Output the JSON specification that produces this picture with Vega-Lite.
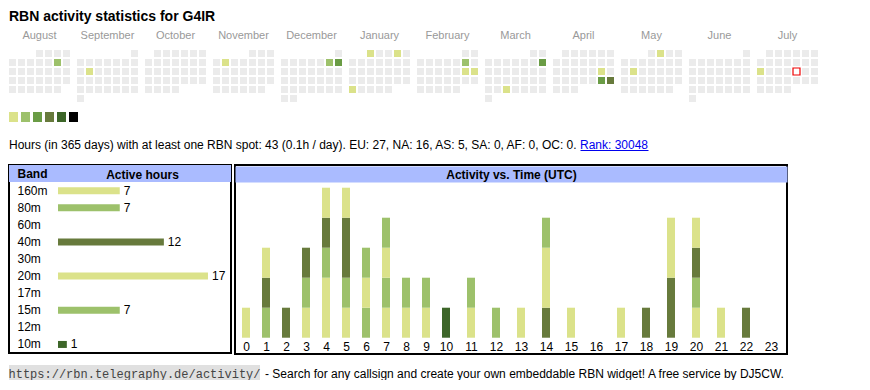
{
  "$schema": "https://vega.github.io/schema/vega-lite/v6.json",
  "background": "white",
  "padding": {"left": 8, "top": 10, "right": 0, "bottom": 0},
  "title": {"text": "RBN activity statistics for G4IR", "anchor": "start", "frame": "group", "fontSize": 14, "fontWeight": "bold", "font": "Liberation Sans", "color": "black", "baseline": "top", "offset": 6},
  "config": {
    "view": {"stroke": null},
    "font": "Liberation Sans",
    "text": {"font": "Liberation Sans", "fontSize": 12, "color": "black"},
    "axis": {"labelFont": "Liberation Sans", "titleFont": "Liberation Sans"},
    "header": {"labelFont": "Liberation Sans"},
    "title": {"font": "Liberation Sans", "color": "black"}
  },
  "spacing": 10,
  "resolve": {"scale": {"color": "independent"}},
  "vconcat": [
    {
      "data": {
        "format": {"parse": {"d": "date"}},
        "values": [
          {"d":"2024-08-01","l":0},{"d":"2024-08-02","l":0},{"d":"2024-08-03","l":0},{"d":"2024-08-04","l":0},{"d":"2024-08-05","l":0},{"d":"2024-08-06","l":0},{"d":"2024-08-07","l":0},{"d":"2024-08-08","l":0},{"d":"2024-08-09","l":0},{"d":"2024-08-10","l":2},
          {"d":"2024-08-11","l":0},{"d":"2024-08-12","l":0},{"d":"2024-08-13","l":0},{"d":"2024-08-14","l":0},{"d":"2024-08-15","l":0},{"d":"2024-08-16","l":0},{"d":"2024-08-17","l":0},{"d":"2024-08-18","l":0},{"d":"2024-08-19","l":0},{"d":"2024-08-20","l":0},
          {"d":"2024-08-21","l":0},{"d":"2024-08-22","l":0},{"d":"2024-08-23","l":0},{"d":"2024-08-24","l":0},{"d":"2024-08-25","l":0},{"d":"2024-08-26","l":0},{"d":"2024-08-27","l":0},{"d":"2024-08-28","l":0},{"d":"2024-08-29","l":0},{"d":"2024-08-30","l":0},{"d":"2024-08-31","l":0},
          {"d":"2024-09-01","l":0},{"d":"2024-09-02","l":0},{"d":"2024-09-03","l":0},{"d":"2024-09-04","l":0},{"d":"2024-09-05","l":0},{"d":"2024-09-06","l":0},{"d":"2024-09-07","l":0},{"d":"2024-09-08","l":0},{"d":"2024-09-09","l":0},{"d":"2024-09-10","l":1},
          {"d":"2024-09-11","l":0},{"d":"2024-09-12","l":0},{"d":"2024-09-13","l":0},{"d":"2024-09-14","l":0},{"d":"2024-09-15","l":0},{"d":"2024-09-16","l":0},{"d":"2024-09-17","l":0},{"d":"2024-09-18","l":0},{"d":"2024-09-19","l":0},{"d":"2024-09-20","l":0},
          {"d":"2024-09-21","l":0},{"d":"2024-09-22","l":0},{"d":"2024-09-23","l":0},{"d":"2024-09-24","l":0},{"d":"2024-09-25","l":0},{"d":"2024-09-26","l":0},{"d":"2024-09-27","l":0},{"d":"2024-09-28","l":0},{"d":"2024-09-29","l":0},{"d":"2024-09-30","l":0},
          {"d":"2024-10-01","l":0},{"d":"2024-10-02","l":0},{"d":"2024-10-03","l":0},{"d":"2024-10-04","l":0},{"d":"2024-10-05","l":0},{"d":"2024-10-06","l":0},{"d":"2024-10-07","l":0},{"d":"2024-10-08","l":0},{"d":"2024-10-09","l":0},{"d":"2024-10-10","l":0},
          {"d":"2024-10-11","l":0},{"d":"2024-10-12","l":0},{"d":"2024-10-13","l":0},{"d":"2024-10-14","l":0},{"d":"2024-10-15","l":0},{"d":"2024-10-16","l":0},{"d":"2024-10-17","l":0},{"d":"2024-10-18","l":0},{"d":"2024-10-19","l":0},{"d":"2024-10-20","l":0},
          {"d":"2024-10-21","l":0},{"d":"2024-10-22","l":0},{"d":"2024-10-23","l":0},{"d":"2024-10-24","l":0},{"d":"2024-10-25","l":0},{"d":"2024-10-26","l":0},{"d":"2024-10-27","l":0},{"d":"2024-10-28","l":0},{"d":"2024-10-29","l":0},{"d":"2024-10-30","l":0},{"d":"2024-10-31","l":0},
          {"d":"2024-11-01","l":0},{"d":"2024-11-02","l":0},{"d":"2024-11-03","l":0},{"d":"2024-11-04","l":0},{"d":"2024-11-05","l":1},{"d":"2024-11-06","l":0},{"d":"2024-11-07","l":0},{"d":"2024-11-08","l":0},{"d":"2024-11-09","l":0},{"d":"2024-11-10","l":0},
          {"d":"2024-11-11","l":0},{"d":"2024-11-12","l":0},{"d":"2024-11-13","l":0},{"d":"2024-11-14","l":0},{"d":"2024-11-15","l":0},{"d":"2024-11-16","l":0},{"d":"2024-11-17","l":0},{"d":"2024-11-18","l":0},{"d":"2024-11-19","l":0},{"d":"2024-11-20","l":0},
          {"d":"2024-11-21","l":0},{"d":"2024-11-22","l":0},{"d":"2024-11-23","l":0},{"d":"2024-11-24","l":0},{"d":"2024-11-25","l":0},{"d":"2024-11-26","l":0},{"d":"2024-11-27","l":0},{"d":"2024-11-28","l":0},{"d":"2024-11-29","l":0},{"d":"2024-11-30","l":0},
          {"d":"2024-12-01","l":0},{"d":"2024-12-02","l":0},{"d":"2024-12-03","l":0},{"d":"2024-12-04","l":0},{"d":"2024-12-05","l":0},{"d":"2024-12-06","l":0},{"d":"2024-12-07","l":2},{"d":"2024-12-08","l":3},{"d":"2024-12-09","l":0},{"d":"2024-12-10","l":0},
          {"d":"2024-12-11","l":0},{"d":"2024-12-12","l":0},{"d":"2024-12-13","l":0},{"d":"2024-12-14","l":0},{"d":"2024-12-15","l":0},{"d":"2024-12-16","l":0},{"d":"2024-12-17","l":0},{"d":"2024-12-18","l":0},{"d":"2024-12-19","l":0},{"d":"2024-12-20","l":0},
          {"d":"2024-12-21","l":0},{"d":"2024-12-22","l":0},{"d":"2024-12-23","l":0},{"d":"2024-12-24","l":0},{"d":"2024-12-25","l":0},{"d":"2024-12-26","l":0},{"d":"2024-12-27","l":0},{"d":"2024-12-28","l":0},{"d":"2024-12-29","l":0},{"d":"2024-12-30","l":0},{"d":"2024-12-31","l":0},
          {"d":"2025-01-01","l":1},{"d":"2025-01-02","l":0},{"d":"2025-01-03","l":0},{"d":"2025-01-04","l":1},{"d":"2025-01-05","l":0},{"d":"2025-01-06","l":0},{"d":"2025-01-07","l":0},{"d":"2025-01-08","l":0},{"d":"2025-01-09","l":0},{"d":"2025-01-10","l":0},
          {"d":"2025-01-11","l":0},{"d":"2025-01-12","l":0},{"d":"2025-01-13","l":0},{"d":"2025-01-14","l":0},{"d":"2025-01-15","l":0},{"d":"2025-01-16","l":0},{"d":"2025-01-17","l":0},{"d":"2025-01-18","l":0},{"d":"2025-01-19","l":0},{"d":"2025-01-20","l":0},
          {"d":"2025-01-21","l":0},{"d":"2025-01-22","l":0},{"d":"2025-01-23","l":0},{"d":"2025-01-24","l":0},{"d":"2025-01-25","l":0},{"d":"2025-01-26","l":0},{"d":"2025-01-27","l":1},{"d":"2025-01-28","l":0},{"d":"2025-01-29","l":0},{"d":"2025-01-30","l":0},{"d":"2025-01-31","l":0},
          {"d":"2025-02-01","l":0},{"d":"2025-02-02","l":0},{"d":"2025-02-03","l":0},{"d":"2025-02-04","l":0},{"d":"2025-02-05","l":0},{"d":"2025-02-06","l":0},{"d":"2025-02-07","l":0},{"d":"2025-02-08","l":2},{"d":"2025-02-09","l":0},{"d":"2025-02-10","l":0},
          {"d":"2025-02-11","l":0},{"d":"2025-02-12","l":0},{"d":"2025-02-13","l":0},{"d":"2025-02-14","l":0},{"d":"2025-02-15","l":1},{"d":"2025-02-16","l":1},{"d":"2025-02-17","l":0},{"d":"2025-02-18","l":0},{"d":"2025-02-19","l":0},{"d":"2025-02-20","l":0},
          {"d":"2025-02-21","l":0},{"d":"2025-02-22","l":0},{"d":"2025-02-23","l":0},{"d":"2025-02-24","l":0},{"d":"2025-02-25","l":0},{"d":"2025-02-26","l":0},{"d":"2025-02-27","l":0},{"d":"2025-02-28","l":0},
          {"d":"2025-03-01","l":0},{"d":"2025-03-02","l":0},{"d":"2025-03-03","l":0},{"d":"2025-03-04","l":0},{"d":"2025-03-05","l":0},{"d":"2025-03-06","l":0},{"d":"2025-03-07","l":0},{"d":"2025-03-08","l":0},{"d":"2025-03-09","l":3},{"d":"2025-03-10","l":0},
          {"d":"2025-03-11","l":0},{"d":"2025-03-12","l":0},{"d":"2025-03-13","l":0},{"d":"2025-03-14","l":0},{"d":"2025-03-15","l":0},{"d":"2025-03-16","l":0},{"d":"2025-03-17","l":0},{"d":"2025-03-18","l":0},{"d":"2025-03-19","l":0},{"d":"2025-03-20","l":0},
          {"d":"2025-03-21","l":0},{"d":"2025-03-22","l":0},{"d":"2025-03-23","l":0},{"d":"2025-03-24","l":0},{"d":"2025-03-25","l":0},{"d":"2025-03-26","l":1},{"d":"2025-03-27","l":0},{"d":"2025-03-28","l":0},{"d":"2025-03-29","l":0},{"d":"2025-03-30","l":0},{"d":"2025-03-31","l":0},
          {"d":"2025-04-01","l":0},{"d":"2025-04-02","l":0},{"d":"2025-04-03","l":0},{"d":"2025-04-04","l":0},{"d":"2025-04-05","l":0},{"d":"2025-04-06","l":0},{"d":"2025-04-07","l":0},{"d":"2025-04-08","l":0},{"d":"2025-04-09","l":0},{"d":"2025-04-10","l":0},
          {"d":"2025-04-11","l":0},{"d":"2025-04-12","l":0},{"d":"2025-04-13","l":0},{"d":"2025-04-14","l":0},{"d":"2025-04-15","l":0},{"d":"2025-04-16","l":0},{"d":"2025-04-17","l":0},{"d":"2025-04-18","l":0},{"d":"2025-04-19","l":1},{"d":"2025-04-20","l":0},
          {"d":"2025-04-21","l":0},{"d":"2025-04-22","l":0},{"d":"2025-04-23","l":0},{"d":"2025-04-24","l":0},{"d":"2025-04-25","l":0},{"d":"2025-04-26","l":3},{"d":"2025-04-27","l":4},{"d":"2025-04-28","l":0},{"d":"2025-04-29","l":0},{"d":"2025-04-30","l":0},
          {"d":"2025-05-01","l":0},{"d":"2025-05-02","l":1},{"d":"2025-05-03","l":0},{"d":"2025-05-04","l":0},{"d":"2025-05-05","l":0},{"d":"2025-05-06","l":0},{"d":"2025-05-07","l":0},{"d":"2025-05-08","l":0},{"d":"2025-05-09","l":0},{"d":"2025-05-10","l":0},
          {"d":"2025-05-11","l":0},{"d":"2025-05-12","l":0},{"d":"2025-05-13","l":1},{"d":"2025-05-14","l":0},{"d":"2025-05-15","l":0},{"d":"2025-05-16","l":0},{"d":"2025-05-17","l":0},{"d":"2025-05-18","l":0},{"d":"2025-05-19","l":0},{"d":"2025-05-20","l":0},
          {"d":"2025-05-21","l":0},{"d":"2025-05-22","l":0},{"d":"2025-05-23","l":0},{"d":"2025-05-24","l":0},{"d":"2025-05-25","l":0},{"d":"2025-05-26","l":0},{"d":"2025-05-27","l":0},{"d":"2025-05-28","l":0},{"d":"2025-05-29","l":0},{"d":"2025-05-30","l":0},{"d":"2025-05-31","l":0},
          {"d":"2025-06-01","l":0},{"d":"2025-06-02","l":0},{"d":"2025-06-03","l":0},{"d":"2025-06-04","l":0},{"d":"2025-06-05","l":0},{"d":"2025-06-06","l":0},{"d":"2025-06-07","l":0},{"d":"2025-06-08","l":0},{"d":"2025-06-09","l":0},{"d":"2025-06-10","l":0},
          {"d":"2025-06-11","l":0},{"d":"2025-06-12","l":0},{"d":"2025-06-13","l":0},{"d":"2025-06-14","l":0},{"d":"2025-06-15","l":0},{"d":"2025-06-16","l":0},{"d":"2025-06-17","l":0},{"d":"2025-06-18","l":0},{"d":"2025-06-19","l":0},{"d":"2025-06-20","l":0},
          {"d":"2025-06-21","l":0},{"d":"2025-06-22","l":0},{"d":"2025-06-23","l":0},{"d":"2025-06-24","l":0},{"d":"2025-06-25","l":0},{"d":"2025-06-26","l":0},{"d":"2025-06-27","l":0},{"d":"2025-06-28","l":0},{"d":"2025-06-29","l":0},{"d":"2025-06-30","l":0},
          {"d":"2025-07-01","l":0},{"d":"2025-07-02","l":0},{"d":"2025-07-03","l":0},{"d":"2025-07-04","l":0},{"d":"2025-07-05","l":0},{"d":"2025-07-06","l":0},{"d":"2025-07-07","l":0},{"d":"2025-07-08","l":0},{"d":"2025-07-09","l":0},{"d":"2025-07-10","l":0},
          {"d":"2025-07-11","l":0},{"d":"2025-07-12","l":0},{"d":"2025-07-13","l":0},{"d":"2025-07-14","l":1},{"d":"2025-07-15","l":0},{"d":"2025-07-16","l":0},{"d":"2025-07-17","l":0},{"d":"2025-07-18","l":0},{"d":"2025-07-19","l":0},{"d":"2025-07-20","l":0},
          {"d":"2025-07-21","l":0},{"d":"2025-07-22","l":0},{"d":"2025-07-23","l":0},{"d":"2025-07-24","l":0},{"d":"2025-07-25","l":0},{"d":"2025-07-26","l":0},{"d":"2025-07-27","l":0},{"d":"2025-07-28","l":0},{"d":"2025-07-29","l":0},{"d":"2025-07-30","l":0},{"d":"2025-07-31","l":0}
        ]
      },
      "transform": [
        {"calculate": "(utcday(datum.d) + 6) % 7", "as": "wd"},
        {"calculate": "floor((utcdate(datum.d) - 1 + (((datum.wd - utcdate(datum.d) + 1) % 7) + 7) % 7) / 7)", "as": "wk"}
      ],
      "facet": {
        "column": {
          "field": "d", "timeUnit": "utcyearmonth", "type": "ordinal", "title": null,
          "header": {"format": "%B", "labelFontSize": 11, "labelColor": "#999999", "labelPadding": 9}
        }
      },
      "spacing": 7,
      "spec": {
        "width": 61,
        "height": 52,
        "mark": {"type": "rect", "strokeWidth": 1.2},
        "encoding": {
          "x": {"field": "wd", "type": "ordinal", "scale": {"domain": [0, 1, 2, 3, 4, 5, 6], "paddingInner": 0.2222, "paddingOuter": 0}, "axis": null},
          "y": {"field": "wk", "type": "ordinal", "scale": {"domain": [0, 1, 2, 3, 4, 5], "paddingInner": 0.2222, "paddingOuter": 0}, "axis": null},
          "color": {
            "condition": {"test": "utcyear(datum.d) == 2025 && utcmonth(datum.d) == 6 && utcdate(datum.d) == 18", "value": "white"},
            "field": "l", "type": "ordinal",
            "scale": {"domain": [0, 1, 2, 3, 4, 5, 6], "range": ["#ebebeb", "#dbe28a", "#9dc16b", "#6a9c45", "#677a3c", "#3d6629", "#000000"]},
            "legend": null
          },
          "stroke": {
            "condition": {"test": "utcyear(datum.d) == 2025 && utcmonth(datum.d) == 6 && utcdate(datum.d) == 18", "value": "#ee0000"},
            "value": null
          }
        }
      }
    },
    {
      "width": 69,
      "height": 10,
      "data": {"values": [{"l": 1}, {"l": 2}, {"l": 3}, {"l": 4}, {"l": 5}, {"l": 6}]},
      "mark": "rect",
      "encoding": {
        "x": {"field": "l", "type": "ordinal", "scale": {"paddingInner": 0.25, "paddingOuter": 0}, "axis": null},
        "color": {
          "field": "l", "type": "ordinal",
          "scale": {"domain": [0, 1, 2, 3, 4, 5, 6], "range": ["#ebebeb", "#dbe28a", "#9dc16b", "#6a9c45", "#677a3c", "#3d6629", "#000000"]},
          "legend": null
        }
      }
    },
    {
      "spacing": 0,
      "hconcat": [
        {
          "width": 570,
          "height": 22,
          "data": {"values": [{"t": "Hours (in 365 days) with at least one RBN spot: 43 (0.1h / day). EU: 27, NA: 16, AS: 5, SA: 0, AF: 0, OC: 0."}]},
          "mark": {"type": "text", "align": "left", "baseline": "middle", "fontSize": 12, "dy": 2},
          "encoding": {"text": {"field": "t"}, "x": {"value": 0}}
        },
        {
          "width": 68,
          "height": 22,
          "data": {"values": [{"t": "Rank: 30048"}]},
          "mark": {"type": "text", "align": "center", "baseline": "middle", "fontSize": 12, "dy": 2, "color": "#0000ee"},
          "encoding": {
            "text": {"field": "t"},
            "x": {"field": "t", "type": "nominal", "scale": {"paddingInner": 0, "paddingOuter": 0}, "axis": {"labels": false, "ticks": false, "title": null, "domainColor": "#0000ee", "domainWidth": 1, "offset": -4}}
          }
        }
      ]
    },
    {
      "spacing": 2,
      "hconcat": [
        {
          "width": 222,
          "height": 188,
          "view": {"stroke": "black", "strokeWidth": 2},
          "data": {"values": [
            {"band": "160m", "h": 7}, {"band": "80m", "h": 7}, {"band": "60m", "h": 0}, {"band": "40m", "h": 12}, {"band": "30m", "h": 0},
            {"band": "20m", "h": 17}, {"band": "17m", "h": 0}, {"band": "15m", "h": 7}, {"band": "12m", "h": 0}, {"band": "10m", "h": 1}
          ]},
          "encoding": {
            "y": {
              "field": "band", "type": "nominal",
              "scale": {"domain": ["Band", "160m", "80m", "60m", "40m", "30m", "20m", "17m", "15m", "12m", "10m"], "paddingInner": 0, "paddingOuter": 0},
              "axis": {
                "domain": false, "ticks": false, "tickSize": 0, "labelAlign": "left", "labelPadding": -8,
                "labelFontSize": 12, "labelColor": "black",
                "labelFontWeight": {"condition": {"test": "datum.value == 'Band'", "value": "bold"}, "value": "normal"},
                "title": "Active hours", "titleAngle": 0, "titleX": 133, "titleY": 9, "titleAlign": "center", "titleBaseline": "middle",
                "titleFontSize": 12, "titleFontWeight": "bold", "titleColor": "black"
              }
            }
          },
          "layer": [
            {
              "data": {"values": [{"band": "Band"}]},
              "mark": {"type": "rect", "color": "#aabbff"}
            },
            {
              "transform": [{"filter": "datum.h > 0"}],
              "mark": {"type": "bar", "height": 7},
              "encoding": {
                "x": {"field": "h", "type": "quantitative", "scale": {"domain": [-5.556, 19.61], "nice": false, "zero": false, "padding": 0}, "axis": null},
                "color": {
                  "field": "band", "type": "nominal",
                  "scale": {"domain": ["160m", "80m", "60m", "40m", "30m", "20m", "17m", "15m", "12m", "10m"], "range": ["#dbe28a", "#9dc16b", "#6a9c45", "#677a3c", "#3d6629", "#dbe28a", "#9dc16b", "#9dc16b", "#677a3c", "#3d6629"]},
                  "legend": null
                }
              }
            },
            {
              "transform": [{"filter": "datum.h > 0"}],
              "mark": {"type": "text", "align": "left", "baseline": "middle", "dx": 4, "fontSize": 12},
              "encoding": {
                "x": {"field": "h", "type": "quantitative"},
                "text": {"field": "h", "type": "quantitative"}
              }
            }
          ]
        },
        {
          "width": 552,
          "height": 189,
          "view": {"stroke": "black", "strokeWidth": 2},
          "data": {"values": [
            {"hour": 0, "band": "160m", "n": 1},
            {"hour": 1, "band": "80m", "n": 1}, {"hour": 1, "band": "40m", "n": 1}, {"hour": 1, "band": "20m", "n": 1},
            {"hour": 2, "band": "40m", "n": 1},
            {"hour": 3, "band": "160m", "n": 1}, {"hour": 3, "band": "80m", "n": 1}, {"hour": 3, "band": "40m", "n": 1},
            {"hour": 4, "band": "160m", "n": 2}, {"hour": 4, "band": "80m", "n": 1}, {"hour": 4, "band": "40m", "n": 1}, {"hour": 4, "band": "20m", "n": 1},
            {"hour": 5, "band": "160m", "n": 1}, {"hour": 5, "band": "80m", "n": 1}, {"hour": 5, "band": "40m", "n": 2}, {"hour": 5, "band": "20m", "n": 1},
            {"hour": 6, "band": "80m", "n": 1}, {"hour": 6, "band": "20m", "n": 1}, {"hour": 6, "band": "15m", "n": 1},
            {"hour": 7, "band": "160m", "n": 1}, {"hour": 7, "band": "80m", "n": 1}, {"hour": 7, "band": "20m", "n": 1}, {"hour": 7, "band": "15m", "n": 1},
            {"hour": 8, "band": "20m", "n": 1}, {"hour": 8, "band": "15m", "n": 1},
            {"hour": 9, "band": "20m", "n": 1}, {"hour": 9, "band": "15m", "n": 1},
            {"hour": 10, "band": "10m", "n": 1},
            {"hour": 11, "band": "20m", "n": 1}, {"hour": 11, "band": "15m", "n": 1},
            {"hour": 12, "band": "15m", "n": 1},
            {"hour": 13, "band": "20m", "n": 1},
            {"hour": 14, "band": "40m", "n": 1}, {"hour": 14, "band": "20m", "n": 2}, {"hour": 14, "band": "15m", "n": 1},
            {"hour": 15, "band": "20m", "n": 1},
            {"hour": 16, "band": "20m", "n": 0},
            {"hour": 17, "band": "20m", "n": 1},
            {"hour": 18, "band": "40m", "n": 1},
            {"hour": 19, "band": "40m", "n": 2}, {"hour": 19, "band": "20m", "n": 2},
            {"hour": 20, "band": "160m", "n": 1}, {"hour": 20, "band": "80m", "n": 1}, {"hour": 20, "band": "40m", "n": 1}, {"hour": 20, "band": "20m", "n": 1},
            {"hour": 21, "band": "20m", "n": 1},
            {"hour": 22, "band": "40m", "n": 1},
            {"hour": 23, "band": "20m", "n": 0}
          ]},
          "transform": [{"calculate": "parseFloat(datum.band)", "as": "m"}],
          "mark": {"type": "bar", "width": 8},
          "encoding": {
            "x": {
              "field": "hour", "type": "quantitative",
              "scale": {"domain": [-0.55, 10, 23.64], "range": [0, 211, 552], "padding": 0, "nice": false, "zero": false},
              "axis": {"values": [0, 1, 2, 3, 4, 5, 6, 7, 8, 9, 10, 11, 12, 13, 14, 15, 16, 17, 18, 19, 20, 21, 22, 23], "format": "d", "grid": false, "domain": false, "ticks": false, "tickSize": 0, "labelPadding": -4, "labelBaseline": "alphabetic", "labelFontSize": 12, "labelColor": "black", "labelFlush": false, "labelOverlap": false, "title": null}
            },
            "y": {
              "field": "n", "type": "quantitative", "stack": "zero",
              "scale": {"domain": [-0.543, 5.757], "nice": false, "zero": false, "padding": 0},
              "axis": {
                "values": [5.47], "grid": true, "gridColor": "#aabbff", "gridWidth": 16, "gridOpacity": 1, "labels": false, "ticks": false, "domain": false,
                "title": "Activity vs. Time (UTC)", "titleAngle": 0, "titleX": 276, "titleY": 9, "titleAlign": "center", "titleBaseline": "middle",
                "titleFontSize": 12, "titleFontWeight": "bold", "titleColor": "black"
              }
            },
            "color": {
              "field": "band", "type": "nominal",
              "scale": {"domain": ["160m", "80m", "60m", "40m", "30m", "20m", "17m", "15m", "12m", "10m"], "range": ["#dbe28a", "#9dc16b", "#6a9c45", "#677a3c", "#3d6629", "#dbe28a", "#9dc16b", "#9dc16b", "#677a3c", "#3d6629"]},
              "legend": null
            },
            "order": {"field": "m", "type": "quantitative", "sort": "descending"}
          }
        }
      ]
    },
    {
      "spacing": 4,
      "hconcat": [
        {
          "width": 251,
          "height": 15,
          "view": {"fill": "#e0e0e0", "stroke": null},
          "data": {"values": [{"t": "https://rbn.telegraphy.de/activity/"}]},
          "mark": {"type": "text", "align": "center", "baseline": "middle", "font": "Liberation Mono", "fontSize": 12, "color": "#444444", "dy": 1},
          "encoding": {"text": {"field": "t"}}
        },
        {
          "width": 530,
          "height": 15,
          "data": {"values": [{"t": "- Search for any callsign and create your own embeddable RBN widget! A free service by DJ5CW."}]},
          "mark": {"type": "text", "align": "left", "baseline": "middle", "fontSize": 12, "dy": 1},
          "encoding": {"text": {"field": "t"}, "x": {"value": 0}}
        }
      ]
    }
  ]
}
